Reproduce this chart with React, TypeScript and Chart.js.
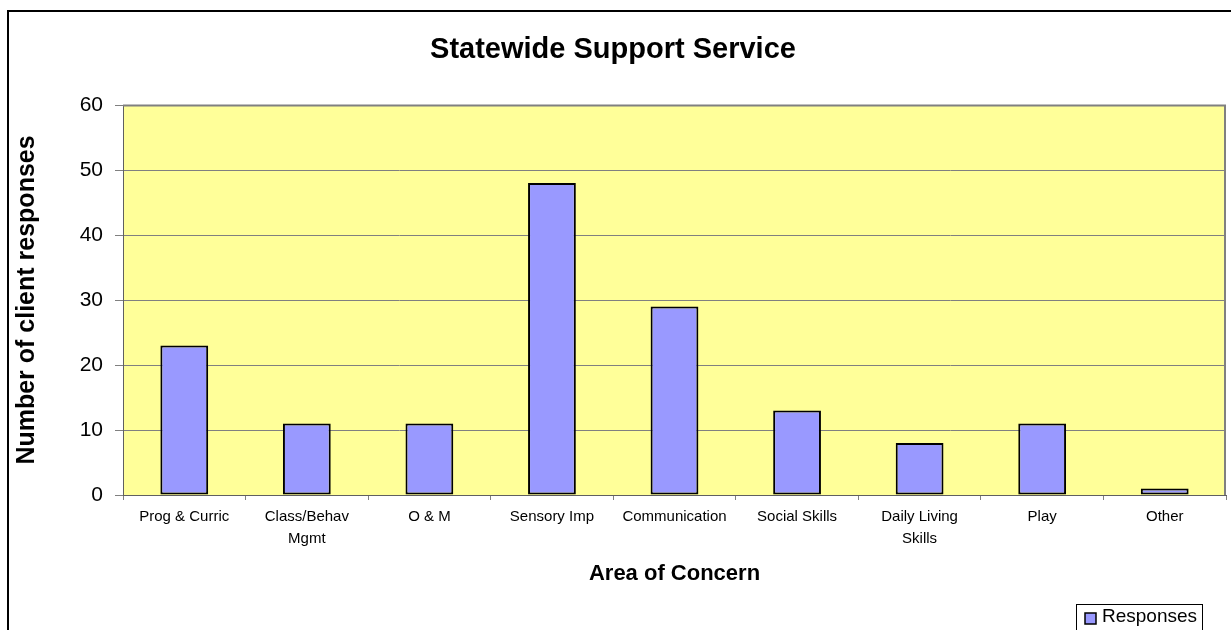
import React, { useEffect, useRef } from "react";
import { Chart, registerables } from "chart.js";

Chart.register(...registerables);

const categories: (string | string[])[] = [
  "Prog & Curric",
  ["Class/Behav", "Mgmt"],
  "O & M",
  "Sensory Imp",
  "Communication",
  "Social Skills",
  ["Daily Living", "Skills"],
  "Play",
  "Other",
];
const responses = [23, 11, 11, 48, 29, 13, 8, 11, 1];
const yMin = 0;
const yMax = 60;
const yStep = 10;
const seriesName = "Responses";
const titleText = "Statewide Support Service";
const xTitleText = "Area of Concern";
const yTitleText = "Number of client responses";

const FONT = "'Liberation Sans', Arial, Helvetica, sans-serif";
const BAR_FILL = "#9999FF";
const PLOT_BG = "#FFFF99";
const GRID = "#808080";

const decor = {
  id: "decor",
  beforeDraw(chart: any) {
    const { ctx, chartArea: a } = chart;
    ctx.save();
    ctx.fillStyle = "#ffffff";
    ctx.fillRect(0, 0, chart.width, chart.height);
    ctx.fillStyle = PLOT_BG;
    ctx.fillRect(a.left, a.top, a.right - a.left, a.bottom - a.top);
    ctx.strokeStyle = "#000000";
    ctx.lineWidth = 2;
    ctx.strokeRect(8, 11, 1400, 800);
    ctx.restore();
  },
  afterDraw(chart: any) {
    const { ctx, chartArea: a } = chart;
    ctx.save();
    ctx.strokeStyle = GRID;
    ctx.lineWidth = 2;
    ctx.beginPath();
    ctx.moveTo(a.left, a.top + 0.5);
    ctx.lineTo(a.right - 1, a.top + 0.5);
    ctx.lineTo(a.right - 1, a.bottom);
    ctx.stroke();

    // legend box
    const lx = 1076;
    const ly = 604;
    ctx.fillStyle = "#ffffff";
    ctx.fillRect(lx, ly, 126, 40);
    ctx.strokeStyle = "#000000";
    ctx.lineWidth = 1;
    ctx.strokeRect(lx + 0.5, ly + 0.5, 126, 40);
    ctx.fillStyle = BAR_FILL;
    ctx.fillRect(lx + 9, ly + 9, 11, 11);
    ctx.lineWidth = 1.5;
    ctx.strokeStyle = "#000000";
    ctx.strokeRect(lx + 9, ly + 9, 11, 11);
    ctx.fillStyle = "#000000";
    ctx.font = `19px ${FONT}`;
    ctx.textAlign = "left";
    ctx.textBaseline = "alphabetic";
    ctx.fillText(seriesName, lx + 26, ly + 18);
    ctx.restore();
  },
};

export default function App() {
  const ref = useRef<HTMLCanvasElement | null>(null);

  useEffect(() => {
    if (!ref.current) return;
    Chart.defaults.font.family = FONT;
    const chart = new Chart(ref.current, {
      type: "bar",
      data: {
        labels: categories as any,
        datasets: [
          {
            label: seriesName,
            data: responses,
            backgroundColor: BAR_FILL,
            borderColor: "#000000",
            borderWidth: 2,
            borderSkipped: false,
            categoryPercentage: 1,
            barPercentage: 0.39,
          },
        ],
      },
      options: {
        animation: false,
        responsive: false,
        devicePixelRatio: 1,
        layout: { padding: { top: 0, left: 0, right: 5, bottom: 0 } },
        plugins: {
          legend: { display: false },
          tooltip: { enabled: false },
          title: {
            display: true,
            text: titleText,
            color: "#000000",
            font: { size: 29, weight: "bold", lineHeight: 1 },
            padding: { top: 35.5, bottom: 40.5 },
          },
        },
        scales: {
          x: {
            offset: true,
            afterFit(scale: any) {
              scale.height = 135;
            },
            grid: {
              display: true,
              drawOnChartArea: false,
              drawTicks: true,
              tickLength: 5,
              color: GRID,
              offset: true,
            },
            border: { display: true, color: "#606060", width: 1 },
            ticks: {
              color: "#000000",
              font: { size: 15, lineHeight: 22 / 15 },
              padding: 6,
              maxRotation: 0,
              autoSkip: false,
            },
            title: {
              display: true,
              text: xTitleText,
              color: "#000000",
              font: { size: 22, weight: "bold", lineHeight: 1 },
              padding: { top: 0, bottom: 45 },
            },
          },
          y: {
            min: yMin,
            max: yMax,
            afterFit(scale: any) {
              scale.width = 123;
            },
            grid: {
              color: GRID,
              lineWidth: 1,
              tickLength: 8,
              drawTicks: true,
            },
            border: { display: true, color: "#606060", width: 1 },
            ticks: {
              stepSize: yStep,
              color: "#000000",
              font: { size: 21 },
              padding: 12,
            },
            title: {
              display: true,
              text: yTitleText,
              color: "#000000",
              font: { size: 25, weight: "bold", lineHeight: 1 },
              padding: { top: 14.5, bottom: 0 },
            },
          },
        },
      },
      plugins: [decor],
    });
    return () => chart.destroy();
  }, []);

  return (
    <canvas
      ref={ref}
      width={1231}
      height={630}
      style={{ position: "fixed", left: 0, top: 0, width: 1231, height: 630, display: "block" }}
    />
  );
}
